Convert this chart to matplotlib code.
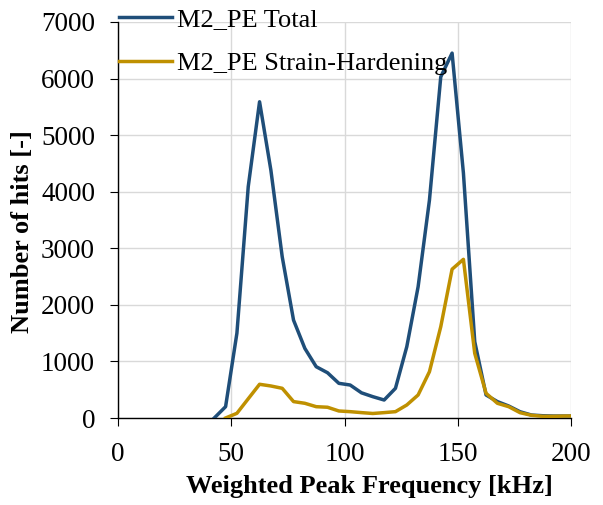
import matplotlib
matplotlib.use("Agg")
import matplotlib.pyplot as plt

freq = [42.5, 47.5, 52.5, 57.5, 62.5, 67.5, 72.5, 77.5, 82.5, 87.5, 92.5, 97.5,
        102.5, 107.5, 112.5, 117.5, 122.5, 127.5, 132.5, 137.5, 142.5, 147.5,
        152.5, 157.5, 162.5, 167.5, 172.5, 177.5, 182.5, 187.5, 192.5, 197.5, 202.5]
total = [0, 200, 1500, 4090, 5590, 4380, 2850, 1730, 1230, 907, 800, 613,
         583, 445, 377, 318, 525, 1260, 2320, 3850, 6030, 6450,
         4330, 1350, 407, 290, 212, 111, 53, 40, 35, 35, 35]
freq_sh = [47.5, 52.5, 57.5, 62.5, 67.5, 72.5, 77.5, 82.5, 87.5, 92.5, 97.5,
           102.5, 107.5, 112.5, 117.5, 122.5, 127.5, 132.5, 137.5, 142.5, 147.5,
           152.5, 157.5, 162.5, 167.5, 172.5, 177.5, 182.5, 187.5, 192.5, 197.5, 202.5]
strain_hard = [0, 83, 340, 596, 566, 525, 290, 260, 200, 190, 124,
               112, 95, 80, 95, 112, 230, 407, 818, 1614, 2630,
               2805, 1143, 437, 260, 200, 94, 48, 30, 30, 35, 35]
labels = ["M2_PE Total", "M2_PE Strain-Hardening"]
colors = ["#1F4E79", "#BF9000"]

plt.rcParams['font.family'] = ['Liberation Serif', 'DejaVu Serif']

fig = plt.figure(figsize=(6.03, 5.05), dpi=100)
ax = fig.add_axes([118/603, 1-418/505, (571-118)/603, (418-22)/505])

ax.plot(freq, total, color=colors[0], lw=2.5, label=labels[0], zorder=3)
ax.plot(freq_sh, strain_hard, color=colors[1], lw=2.5, label=labels[1], zorder=3)

ax.set_xlim(0, 200)
ax.set_ylim(0, 7000)
ax.set_xticks(range(0, 201, 50))
ax.set_yticks(range(0, 7001, 1000))
ax.grid(True, color="#D9D9D9", lw=1.0, zorder=0)
ax.set_axisbelow(True)
for s in ["top", "right"]:
    ax.spines[s].set_visible(False)
for s in ["left", "bottom"]:
    ax.spines[s].set_color("black")
    ax.spines[s].set_linewidth(1.0)
ax.tick_params(axis="both", labelsize=19.5, direction="out", length=5.5, color="black")
ax.tick_params(axis="y", pad=11)
ax.tick_params(axis="x", pad=12)

ax.set_xlabel("Weighted Peak Frequency [kHz]", fontsize=19, fontweight="bold", va="center")
ax.xaxis.set_label_coords((369-118)/453, (418-487)/396)
ax.set_ylabel("Number of hits [-]", fontsize=19, fontweight="bold", va="center")
ax.yaxis.set_label_coords((23-118)/453, (418-231.5)/396)

leg = fig.legend(loc="upper left", bbox_to_anchor=(119/603, 1-8/505), frameon=False,
                 fontsize=19, handlelength=2.0, handletextpad=0.2, labelspacing=0.76,
                 borderpad=0, borderaxespad=0)
leg.set_zorder(1)

fig.savefig("out.png", dpi=100)
